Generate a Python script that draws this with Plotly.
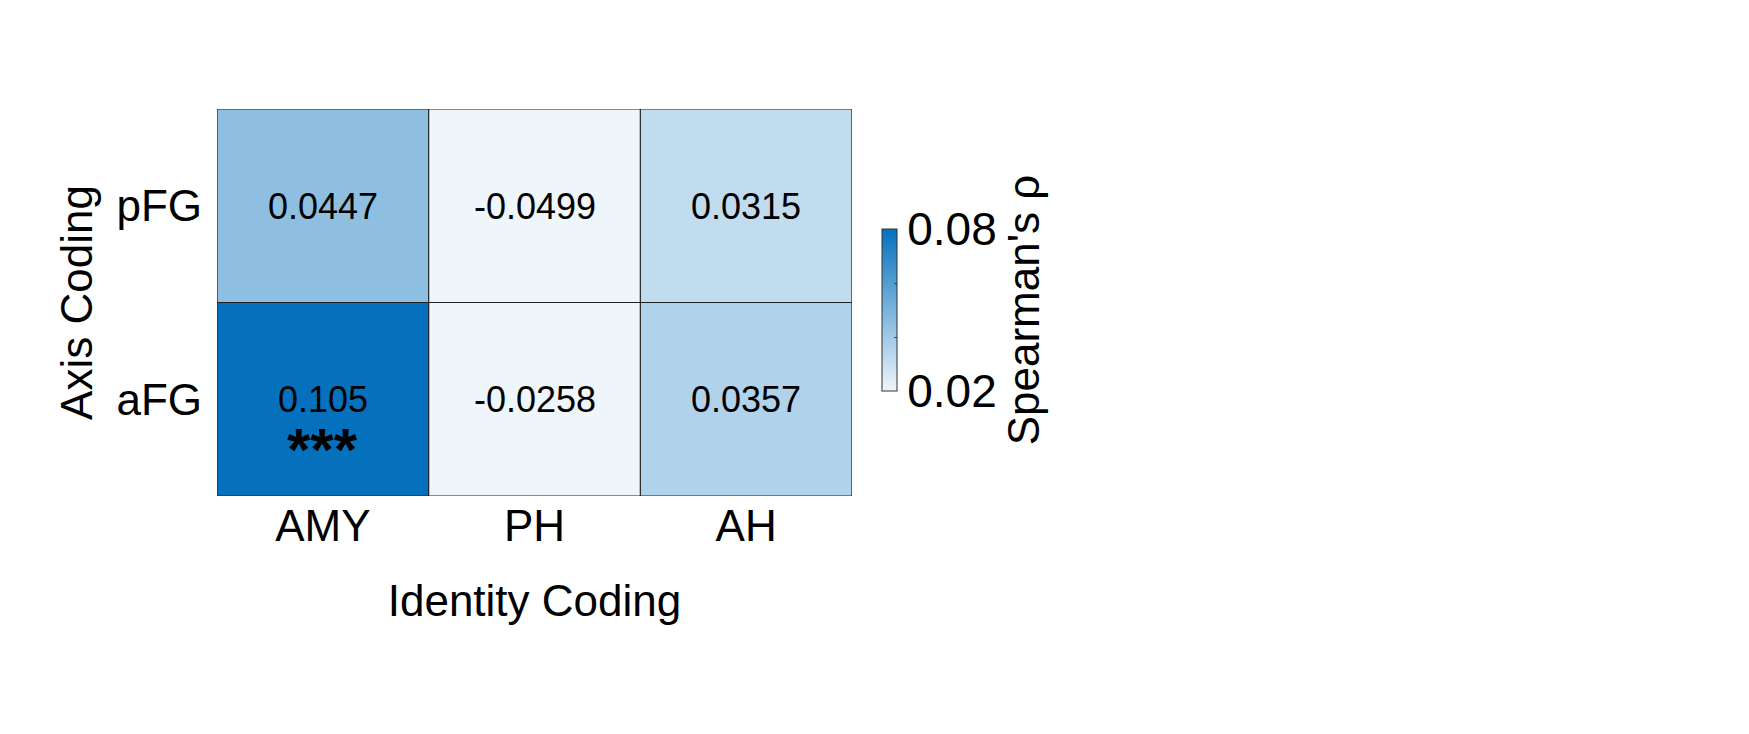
import plotly.graph_objects as go

x_labels = ["AMY", "PH", "AH"]
y_labels = ["aFG", "pFG"]
values = [[0.105, -0.0258, 0.0357],
          [0.0447, -0.0499, 0.0315]]
cell_text = [["0.105", "-0.0258", "0.0357"],
             ["0.0447", "-0.0499", "0.0315"]]
stars = [["***", "", ""], ["", "", ""]]

FONT = "Liberation Sans, Arial, sans-serif"
fig = go.Figure(go.Heatmap(
    z=values, x=[0, 1, 2], y=[0, 1], zmin=0.02, zmax=0.08,
    colorscale=[[0, "#eef5fb"], [1, "#0571bd"]],
    text=cell_text, texttemplate="%{text}", textfont=dict(size=36, color="black", family=FONT),
    hoverinfo="skip",
    colorbar=dict(x=0.494, xanchor="left", y=1-302/734, yanchor="middle", len=0.248, lenmode="fraction",
                  thickness=15, outlinewidth=1, outlinecolor="#333",
                  tickvals=[0.02, 0.04, 0.06, 0.08], ticktext=["0.02", "", "", "0.08"],
                  ticks="inside", ticklen=3, tickfont=dict(size=46, family=FONT, color="black"),
                  title=dict(text="Spearman's ρ", side="right", font=dict(size=44, family=FONT, color="black")))
))
for i in range(2):
    for j in range(3):
        if stars[i][j]:
            fig.add_annotation(x=j, y=i, text="<b>" + stars[i][j] + "</b>", showarrow=False, yshift=-50,
                               font=dict(size=60, family=FONT, color="black"))
for k in range(4):
    fig.add_shape(type="line", x0=k-0.5, x1=k-0.5, y0=-0.5, y1=1.5, line=dict(color="#222", width=1.2))
for k in range(3):
    fig.add_shape(type="line", x0=-0.5, x1=2.5, y0=k-0.5, y1=k-0.5, line=dict(color="#222", width=1.2))

fig.update_layout(
    width=1749, height=734, paper_bgcolor="white", plot_bgcolor="white",
    margin=dict(l=0, r=0, t=0, b=0),
    xaxis=dict(domain=[209/1749, 844/1749], range=[-0.5, 2.5], tickvals=[0, 1, 2], ticktext=x_labels,
               showgrid=False, zeroline=False, ticks="", tickfont=dict(size=44, family=FONT, color="black"),
               title=dict(text="Identity Coding", font=dict(size=44, family=FONT, color="black"), standoff=36)),
    yaxis=dict(domain=[1-488/734, 1-101/734], range=[-0.5, 1.5], tickvals=[0, 1], ticktext=y_labels,
               showgrid=False, zeroline=False, ticks="", ticklabelstandoff=14,
               tickfont=dict(size=44, family=FONT, color="black"),
               title=dict(text="Axis Coding", font=dict(size=44, family=FONT, color="black"), standoff=10)),
)
fig.write_html("out.html")
